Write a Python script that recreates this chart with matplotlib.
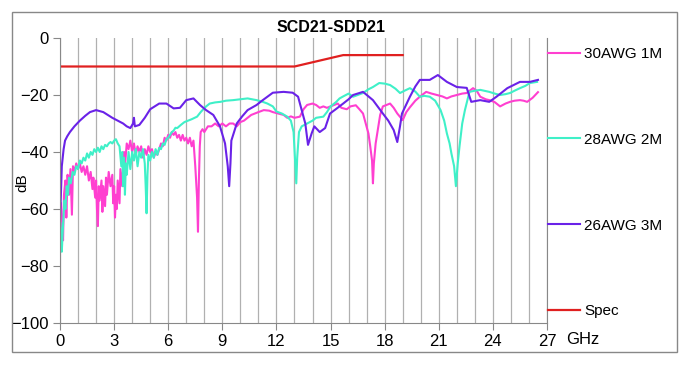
import numpy as np
import matplotlib
matplotlib.use('Agg')
import matplotlib.pyplot as plt
from matplotlib.patches import Rectangle

plt.rcParams['font.family'] = ['Liberation Sans', 'DejaVu Sans']

# 30AWG 1M
f_30 = [0.05, 0.1, 0.17, 0.22, 0.3, 0.35, 0.42, 0.5, 0.58, 0.66, 0.72, 0.8, 0.9, 1.0, 1.1, 1.2, 1.3, 1.4, 1.5, 1.6,
        1.7, 1.8, 1.85, 1.95, 2.0, 2.05, 2.1, 2.15, 2.2, 2.3, 2.35, 2.4, 2.5, 2.55, 2.6, 2.7, 2.8, 2.9, 2.95, 3.0,
        3.05, 3.1, 3.15, 3.2, 3.3, 3.35, 3.45, 3.55, 3.6, 3.7, 3.8, 3.9, 4.0, 4.1, 4.2, 4.3, 4.4, 4.5, 4.6, 4.7,
        4.8, 4.9, 5.0, 5.1, 5.2, 5.3, 5.4, 5.5, 5.6, 5.7, 5.8, 5.9, 6.0, 6.1, 6.2, 6.3, 6.4, 6.5, 6.6, 6.7,
        6.8, 6.9, 7.0, 7.1, 7.2, 7.3, 7.4, 7.5, 7.6, 7.65, 7.7, 7.75, 7.8, 7.9, 8.0, 8.2, 8.4, 8.6, 8.8, 9.0,
        9.2, 9.4, 9.6, 9.8, 10.0, 10.2, 10.4, 10.6, 10.8, 11.0, 11.3, 11.6, 11.8, 12.1, 12.4, 12.6, 12.8, 13.0, 13.3, 13.5,
        13.7, 14.0, 14.2, 14.4, 14.6, 14.8, 15.0, 15.2, 15.4, 15.6, 15.9, 16.1, 16.4, 16.6, 16.8, 16.95, 17.1, 17.2, 17.3, 17.35,
        17.4, 17.5, 17.6, 17.75, 17.9, 18.1, 18.3, 18.5, 18.7, 18.9, 19.0, 19.2, 19.4, 19.7, 19.95, 20.3, 20.6, 20.9, 21.2, 21.45,
        21.7, 22.0, 22.3, 22.55, 22.9, 23.1, 23.3, 23.6, 23.8, 24.1, 24.4, 24.7, 24.95, 25.2, 25.5, 25.7, 25.9, 26.2, 26.5]
db_30 = [-58, -65, -71, -55, -50, -63, -48, -55, -46, -62, -45, -47, -44, -46, -44, -47, -45, -48, -45, -50,
         -47, -53, -49, -56, -50, -60, -66, -52, -57, -50, -61, -52, -59, -49, -55, -47, -52, -48, -58, -52,
         -63, -55, -60, -50, -58, -46, -52, -40, -45, -37, -39, -36, -40, -37, -41, -38, -40, -38, -42, -39,
         -41, -38, -40, -39, -42, -40, -41, -39, -37, -38, -35, -36, -34, -35, -33, -34, -33, -35, -34, -36,
         -34, -36, -35, -37, -35, -38, -36, -45, -56, -68, -50, -38, -33, -32, -33, -31, -31, -30, -31, -30,
         -31, -30, -30, -31, -29.5, -29, -28, -27, -26.5, -26, -25.3, -25.5, -26, -26.5, -27, -28, -27.5, -28, -27.6, -25,
         -23.5, -23, -23.5, -24.5, -24, -24.5, -24, -23.5, -23, -24.5, -25, -24, -23.6, -25, -26.5, -30, -33.5, -38, -43, -51,
         -44, -37, -33, -27, -24, -23.5, -23, -24.5, -26.5, -28, -28.8, -26, -24.3, -22, -20.6, -18.9, -19.5, -20, -20.5, -21.2,
         -20.5, -20, -19.5, -19.3, -17.6, -18.5, -20.6, -21.5, -21.8, -22.5, -24, -23, -22.4, -22, -21.8, -22, -22.4, -21, -19]

# 28AWG 2M
f_28 = [0.02, 0.1, 0.15, 0.2, 0.25, 0.3, 0.37, 0.45, 0.5, 0.6, 0.7, 0.8, 0.9, 1.0, 1.1, 1.2, 1.3, 1.4, 1.5, 1.6,
        1.7, 1.8, 1.9, 2.0, 2.1, 2.2, 2.3, 2.4, 2.5, 2.6, 2.7, 2.8, 2.9, 3.0, 3.1, 3.2, 3.3, 3.4, 3.45, 3.5,
        3.55, 3.6, 3.65, 3.7, 3.8, 3.9, 4.0, 4.1, 4.2, 4.3, 4.4, 4.5, 4.6, 4.7, 4.75, 4.8, 4.85, 4.9, 5.0, 5.1,
        5.2, 5.3, 5.4, 5.5, 5.6, 5.7, 5.8, 5.9, 6.0, 6.1, 6.2, 6.3, 6.4, 6.5, 6.7, 6.9, 7.1, 7.3, 7.6, 7.8,
        7.9, 8.1, 8.3, 8.6, 8.9, 9.2, 9.6, 10.0, 10.4, 10.9, 11.2, 11.5, 11.8, 12.0, 12.3, 12.6, 12.8, 12.95, 13.05, 13.1,
        13.15, 13.25, 13.4, 13.7, 14.0, 14.2, 14.6, 14.8, 15.0, 15.3, 15.5, 15.7, 16.0, 16.25, 16.5, 16.8, 17.1, 17.35, 17.7, 18.0,
        18.3, 18.6, 18.85, 19.1, 19.4, 19.7, 19.95, 20.2, 20.5, 20.8, 21.1, 21.3, 21.45, 21.6, 21.7, 21.85, 21.95, 22.05, 22.15, 22.3,
        22.45, 22.7, 23.0, 23.3, 23.6, 23.8, 24.1, 24.4, 24.7, 24.95, 25.2, 25.5, 25.8, 26.05, 26.45]
db_28 = [-65, -75, -68, -62, -57, -60, -52, -55, -49, -51, -47, -48, -45, -46, -43, -44, -42, -43, -40.5, -42,
         -40, -41, -39, -40, -38.5, -40, -38, -39, -37.5, -38, -37, -36.5, -37, -36, -35.5, -37, -38, -45, -40, -52,
         -42, -55, -44, -48, -40, -46, -40, -43, -39, -45, -40, -42, -39, -44, -52, -61.5, -48, -41, -43, -40,
         -42, -39, -41, -38.5, -39, -37, -37.5, -35.5, -35, -34, -33, -32.5, -31.5, -31.6, -30.5, -29.5, -29, -28.5, -27.6, -26,
         -25.3, -24, -23, -22.6, -22.4, -22, -21.8, -21.5, -21.2, -21.8, -22.3, -23, -24, -25.8, -26.5, -27.6, -29, -33, -45, -51,
         -42, -33, -31, -30, -29, -28, -27.6, -26, -24, -22.5, -21.2, -20.5, -19.5, -20.6, -20, -19.3, -18, -17.2, -15.8, -16,
         -16.5, -17.8, -19.3, -18.5, -17.6, -18.8, -20.6, -20.3, -20.6, -22, -25.3, -29, -33.5, -37, -40.5, -45, -52, -44, -38, -30,
         -25.3, -18.9, -18.5, -18.2, -18.6, -18.9, -19.5, -20, -19.7, -19.3, -18.5, -17.6, -16.8, -15.8, -15.4]

# 26AWG 3M
f_26 = [0.0, 0.05, 0.1, 0.2, 0.28, 0.4, 0.55, 0.8, 1.1, 1.4, 1.66, 2.0, 2.4, 2.9, 3.2, 3.5, 3.7, 3.9, 4.05, 4.1,
        4.15, 4.4, 4.7, 5.0, 5.3, 5.5, 5.9, 6.3, 6.65, 7.0, 7.4, 7.76, 8.1, 8.5, 8.87, 9.15, 9.3, 9.38, 9.45, 9.5,
        9.8, 10.1, 10.4, 10.9, 11.2, 11.5, 11.8, 12.4, 12.9, 13.2, 13.4, 13.6, 13.75, 13.95, 14.1, 14.4, 14.7, 14.97, 15.35, 15.7,
        16.0, 16.25, 16.8, 17.35, 17.9, 18.2, 18.5, 18.7, 18.85, 18.96, 19.4, 19.7, 19.95, 20.5, 20.95, 21.45, 22.0, 22.55, 22.8, 23.3,
        23.8, 24.2, 24.8, 25.5, 26.05, 26.5]
db_26 = [-64, -55, -45, -39, -36, -34.5, -33, -31, -29, -27.3, -26, -25.3, -26, -28, -29, -30, -31, -31.6, -30, -28,
         -31, -30.5, -28, -25, -23.8, -23, -23, -24.7, -24.5, -21.8, -21.2, -23.5, -25.3, -27, -31, -37, -45, -52, -44, -36,
         -30, -27.5, -25.3, -23.5, -22, -20.6, -19.2, -18.9, -19.2, -20.6, -25.3, -30, -37.5, -33.5, -31, -33, -31.6, -26.5, -24.7, -23,
         -21.5, -20, -18.9, -21.8, -26.5, -29, -32.3, -36.5, -31, -26.5, -20.6, -17, -14.7, -14.7, -13, -15.4, -17.2, -17.5, -22.4, -21.8,
         -22.4, -20.6, -17.6, -15.4, -15.4, -14.7]

# Spec limit
f_spec = [0, 13, 15.7, 19]
db_spec = [-10, -10, -6, -6]

fig = plt.figure(figsize=(6.9, 3.65), dpi=100)
ax = fig.add_axes([60/690, 1-323/365, 487/690, 285/365])

ax.plot(f_30, db_30, color='#ff3fd0', lw=1.5, label='30AWG 1M')
ax.plot(f_28, db_28, color='#3ff0c8', lw=1.5, label='28AWG 2M')
ax.plot(f_26, db_26, color='#6a22e8', lw=1.5, label='26AWG 3M')
ax.plot(f_spec, db_spec, color='#e02020', lw=1.6, label='Spec')

ax.set_xlim(0, 27)
ax.set_ylim(-100, 0)
ax.set_xticks(np.arange(0, 28, 3))
ax.set_xticks(np.arange(0, 28, 1), minor=True)
ax.set_yticks(np.arange(-100, 1, 20))
ax.tick_params(axis='x', which='minor', length=0)
ax.tick_params(which='major', direction='out', length=5, color='#888888', labelsize=12, pad=3)
ax.grid(True, axis='x', which='both', color='#b0b0b0', lw=0.9)
ax.set_axisbelow(True)
ax.spines['top'].set_visible(False)
for s in ['left', 'bottom', 'right']:
    ax.spines[s].set_color('#888888')

fig.text(331/690, 1-28/365, 'SCD21-SDD21', fontsize=11.5, fontweight='bold', ha='center', va='center')
fig.text(22/690, 1-183/365, 'dB', rotation=90, fontsize=11, ha='center', va='center')
fig.text(566/690, 1-340/365, 'GHz', fontsize=12, ha='left', va='center')

ax.legend(loc='upper left', bbox_to_anchor=(548/690, 1-47/365), bbox_transform=fig.transFigure,
          frameon=False, fontsize=11, handlelength=2.1, handletextpad=0.25, labelspacing=4.7,
          borderaxespad=0, borderpad=0)

fig.add_artist(Rectangle((12/690, 1-352/365), 665/690, 340/365, transform=fig.transFigure,
                         fill=False, edgecolor='#888888', lw=1))

plt.savefig('out.png', dpi=100)
